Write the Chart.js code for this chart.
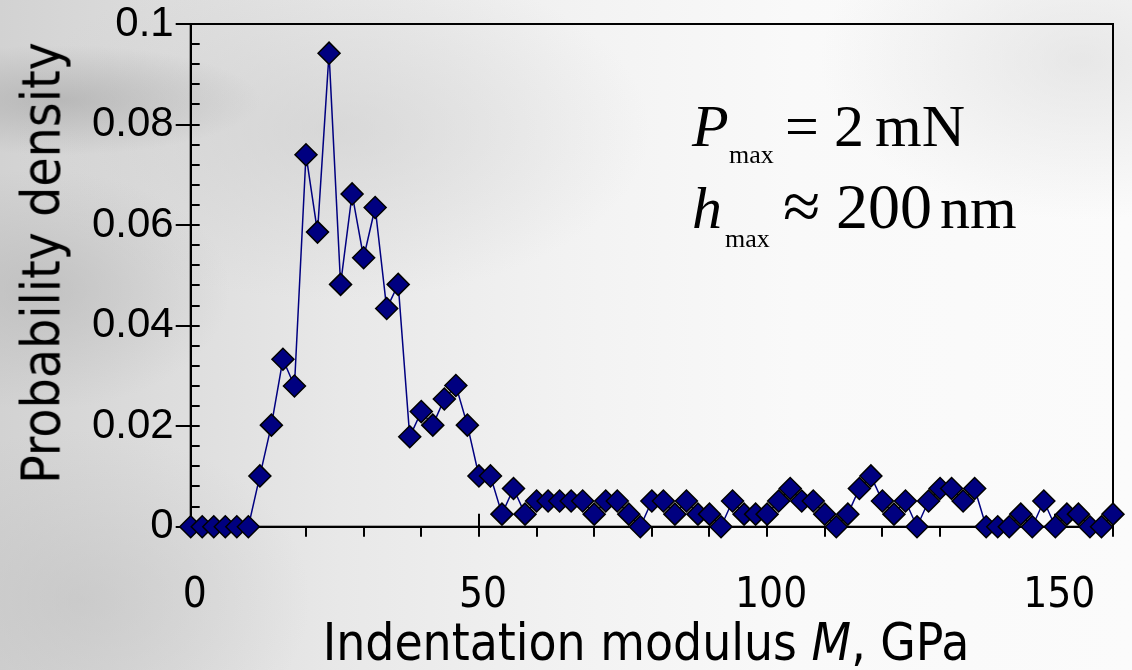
<!DOCTYPE html>
<html>
<head>
<meta charset="utf-8">
<script src="https://cdn.jsdelivr.net/npm/chart.js@4.4.1/dist/chart.umd.min.js"></script>
<style>
  body { margin: 0; background: #eeeeee; }
  #wrap {
    position: relative;
    width: 1132px;
    height: 670px;
    overflow: hidden;
    background:
      radial-gradient(ellipse 200px 55px at 60px 100px, rgba(165,165,165,0.6), rgba(165,165,165,0) 100%),
      radial-gradient(ellipse 190px 120px at 40px 290px, rgba(178,178,178,0.55), rgba(178,178,178,0) 100%),
      radial-gradient(ellipse 230px 170px at 80px 600px, rgba(190,190,190,0.5), rgba(190,190,190,0) 100%),
      radial-gradient(ellipse 320px 170px at 330px 130px, rgba(200,200,200,0.5), rgba(200,200,200,0) 100%),
      radial-gradient(ellipse 260px 160px at 1080px 60px, rgba(212,212,212,0.5), rgba(212,212,212,0) 100%),
      linear-gradient(to right, #d2d2d2 0%, #dddddd 15%, #e8e8e8 30%, #f2f2f2 50%, #f9f9f9 70%, #fbfbfb 100%);
  }
  canvas { position: absolute; left: 0; top: 0; }
  .note {
    position: absolute;
    font-family: "Liberation Serif", "Times New Roman", serif;
    color: #000;
    line-height: 1;
    white-space: nowrap;
  }
  .big { font-size: 60px; }
  .small { font-size: 26px; }
  .it { font-style: italic; }
  .axisTitle {
    position: absolute;
    font-family: "DejaVu Sans Condensed", "DejaVu Sans", sans-serif;
    color: #000;
    line-height: 1;
    white-space: nowrap;
  }
</style>
</head>
<body>
<div id="wrap">
  <canvas id="myChart" width="1132" height="670"></canvas>

  <div class="axisTitle" style="left:146px; width:1000px; top:617px; font-size:51px; text-align:center;">Indentation modulus <i>M</i>, GPa</div>
  <div class="axisTitle" style="left:41px; top:263px; font-size:53px; transform:translate(-50%, -50%) rotate(-90deg);">Probability density</div>

  <!-- P_max = 2 mN -->
  <span class="note big it" style="left:692px; top:96px;">P</span>
  <span class="note small" style="left:729px; top:142px;">max</span>
  <span class="note big" style="left:785px; top:96px;">=</span>
  <span class="note big" style="left:834px; top:96px;">2</span>
  <span class="note big" style="left:875px; top:96px;">mN</span>

  <!-- h_max ≈ 200 nm -->
  <span class="note big it" style="left:692px; top:178px;">h</span>
  <span class="note small" style="left:725px; top:226px;">max</span>
  <span class="note" style="left:783px; top:172px; font-size:68px;">≈</span>
  <span class="note" style="left:836px; top:175px; font-size:64px;">200</span>
  <span class="note big" style="left:940px; top:178px;">nm</span>
</div>

<script>
// indentation modulus M (GPa), one point every 2 GPa
const modulus = [
  0, 2, 4, 6, 8, 10, 12, 14, 16, 18,
  20, 22, 24, 26, 28, 30, 32, 34, 36, 38,
  40, 42, 44, 46, 48, 50, 52, 54, 56, 58,
  60, 62, 64, 66, 68, 70, 72, 74, 76, 78,
  80, 82, 84, 86, 88, 90, 92, 94, 96, 98,
  100, 102, 104, 106, 108, 110, 112, 114, 116, 118,
  120, 122, 124, 126, 128, 130, 132, 134, 136, 138,
  140, 142, 144, 146, 148, 150, 152, 154, 156, 158,
  160,
];

// probability density
const density = [
  0, 0, 0, 0, 0, 0, 0.0101, 0.0202, 0.0333, 0.028,
  0.074, 0.0586, 0.0942, 0.0482, 0.0662, 0.0535, 0.0635, 0.0434, 0.0482, 0.0179,
  0.0229, 0.0202, 0.0254, 0.0281, 0.0202, 0.0101, 0.0101, 0.0025, 0.0076, 0.0025,
  0.0051, 0.0051, 0.0051, 0.0051, 0.0051, 0.0025, 0.0051, 0.0051, 0.0025, 0,
  0.0051, 0.0051, 0.0025, 0.0051, 0.0025, 0.0025, 0, 0.0051, 0.0025, 0.0025,
  0.0025, 0.0051, 0.0076, 0.0051, 0.0051, 0.0025, 0, 0.0025, 0.0076, 0.0101,
  0.0051, 0.0025, 0.0051, 0, 0.0051, 0.0076, 0.0076, 0.0051, 0.0076, 0,
  0, 0, 0.0025, 0, 0.0051, 0, 0.0025, 0.0025, 0, 0,
  0.0025,
];

const xLabels = [0, 50, 100, 150];
const yLabels = [0, 0.02, 0.04, 0.06, 0.08, 0.1];

const navy = "#000080";

// extra tick marks the library can't do on its own: inward minor ticks on y,
// upward half of the major x ticks, and the box around the plot
const frameTicks = {
  id: "frameTicks",
  beforeDatasetsDraw(chart) {
    const { ctx, chartArea: a, scales } = chart;
    const xs = scales.x;
    const ys = scales.y;
    ctx.save();
    ctx.strokeStyle = "#000";
    ctx.lineWidth = 2;
    ctx.beginPath();
    for (let k = 0; k <= 25; k++) {
      const py = Math.round(ys.getPixelForValue(k * 0.004));
      ctx.moveTo(a.left, py);
      ctx.lineTo(a.left + 9, py);
    }
    xLabels.forEach((v) => {
      if (v === 0) return;
      const px = Math.round(xs.getPixelForValue(v));
      ctx.moveTo(px, a.bottom);
      ctx.lineTo(px, a.bottom - 13);
    });
    ctx.stroke();
    ctx.strokeRect(a.left, a.top, a.right - a.left, a.bottom - a.top);
    ctx.restore();
  },
};

new Chart("myChart", {
  type: "line",
  data: {
    datasets: [
      {
        data: modulus.map((m, i) => ({ x: m, y: density[i] })),
        borderColor: navy,
        borderWidth: 1.5,
        backgroundColor: navy,
        pointStyle: "rectRot",
        pointRadius: 11,
        pointBackgroundColor: navy,
        pointBorderColor: "#000",
        pointBorderWidth: 1.5,
        tension: 0,
        clip: false,
      },
    ],
  },
  options: {
    responsive: false,
    animation: false,
    devicePixelRatio: 1,
    layout: { padding: { top: 24, right: 19, left: 0, bottom: 0 } },
    plugins: {
      legend: { display: false },
      tooltip: { enabled: false },
    },
    scales: {
      x: {
        type: "linear",
        min: 0,
        max: 160,
        afterFit: (s) => {
          s.height = 143.3;
          s.paddingLeft = 0;
          s.paddingRight = 0;
        },
        grid: { drawOnChartArea: false, tickLength: 10, color: "#000", lineWidth: 2 },
        border: { color: "#000", width: 2 },
        ticks: {
          stepSize: 10,
          maxRotation: 0,
          autoSkip: false,
          padding: 34,
          labelOffset: 4,
          color: "#000",
          font: { family: "'DejaVu Sans Condensed', 'DejaVu Sans', sans-serif", size: 42 },
          callback: (v) => (xLabels.includes(v) ? String(v) : ""),
        },
      },
      y: {
        min: 0,
        max: 0.1,
        afterFit: (s) => {
          s.width = 190.7;
          s.paddingTop = 0;
          s.paddingBottom = 0;
        },
        grid: { drawOnChartArea: false, tickLength: 15, color: "#000", lineWidth: 2 },
        border: { color: "#000", width: 2 },
        ticks: {
          stepSize: 0.02,
          padding: 2,
          color: "#000",
          font: { family: "'Liberation Sans', Arial, sans-serif", size: 42 },
          callback: (v) => {
            const r = +v.toFixed(2);
            return yLabels.includes(r) ? String(r) : "";
          },
        },
      },
    },
  },
  plugins: [frameTicks],
});
</script>
</body>
</html>
